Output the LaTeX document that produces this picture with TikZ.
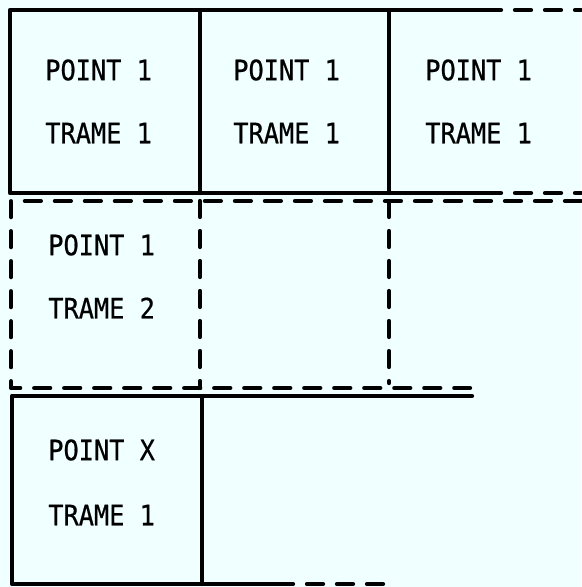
\documentclass[tikz,border=0pt]{standalone}
\usepackage{fontspec}
\usepackage{xcolor}
\usepackage{tikz}
\usetikzlibrary{positioning}
\newfontfamily\typewr[FakeStretch=0.9,FakeBold=0.6]{DejaVu Sans Mono}
\definecolor{paper}{HTML}{F0FFFF}

\begin{document}
\begin{tikzpicture}[
  x=0.025cm, y=-0.025cm,
  lbl/.style ={anchor=west, inner sep=0pt, font=\typewr\fontsize{20}{24}\selectfont},
  sld/.style ={line width=3pt, line cap=round, line join=round},
  dsh/.style ={line width=3pt, line cap=round, line join=round,
               dash pattern=on 0.4cm off 0.35cm}
]
\fill[paper] (0,0) rectangle (581,587);
\useasboundingbox (0,0) rectangle (581,587);

% =============== row 1: trame 1, points 1 ===============
\draw[sld] (485,10) -- (10,10) -- (10,193) -- (485,193);
\draw[dsh] (485,10) -- (581,10);
\draw[dsh] (485,193) -- (581,193);
\draw[sld] (200,10) -- (200,193);
\draw[sld] (389,10) -- (389,193);

\node[lbl] (p11) at (45,70)   {POINT 1};
\node[lbl] (t11) at (45,133)  {TRAME 1};
\node[lbl] (p12) at (233,70)  {POINT 1};
\node[lbl] (t12) at (233,133) {TRAME 1};
\node[lbl] (p13) at (425,70)  {POINT 1};
\node[lbl] (t13) at (425,133) {TRAME 1};

% =============== row 2: trame 2, dashed ===============
\draw[dsh] (581,201) -- (11,201) -- (11,388) -- (470,388);
\draw[dsh] (200,201) -- (200,388);
\draw[dsh] (389,201) -- (389,383);

\node[lbl] (p21) at (48,245) {POINT 1};
\node[lbl] (t21) at (48,308) {TRAME 2};

% =============== row 3: point x ===============
\draw[sld] (472,396) -- (12,396) -- (12,584) -- (277,584);
\draw[dsh] (277,584) -- (385,584);
\draw[sld] (202,396) -- (202,584);

\node[lbl] (p31) at (48,450) {POINT X};
\node[lbl] (t31) at (48,515) {TRAME 1};
\end{tikzpicture}
\end{document}
